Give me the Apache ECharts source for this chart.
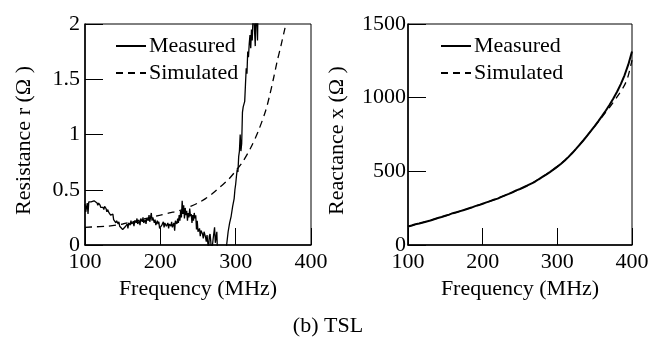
<!DOCTYPE html>
<html>
<head>
<meta charset="utf-8">
<script src="https://cdn.jsdelivr.net/npm/echarts@6/dist/echarts.min.js"></script>
<style>
  html, body { margin: 0; padding: 0; background: #fff; }
  #chart { width: 656px; height: 349px; }
</style>
</head>
<body>
<div id="chart"></div>
<script>
// ---------- Data ----------
const xTicks = [100, 200, 300, 400];

// Left panel: Resistance r (Ohm)
const rMeasFreq = [100,101,103,104,105,108,110,112,114,116,117,118,120,121,122,124,125,126,128,129,130,132,133,134,136,137,138,140,141,142,144,145,146,148,150,152,154,156,157,158,160,161,162,164,165,166,168,169,170,172,173,174,176,177,178,180,181,182,184,185,186,188,189,190,192,193,194,196,197,198,199,202,204,205,206,208,210,211,212,214,215,216,218,219,220,222,223,224,225,226,227,228,229,230,231,232,233,234,235,236,237,238,239,240,241,242,243,244,245,246,247,248,249,250,252,253,254,256,257,258,260,261,262,263,264,265,266,267,268,270,272,273,275,276,280,285,288,290,292,294,296,298,299,300,301,302,303,304,305,306,307,308,309,310,312,313,314,315,316,317,318,319,320,321,322,323,324,326,327,329,330,333];
const rMeasured = [0.37,0.30,0.38,0.28,0.39,0.39,0.40,0.40,0.39,0.38,0.36,0.38,0.36,0.34,0.35,0.34,0.32,0.35,0.33,0.30,0.32,0.29,0.30,0.27,0.26,0.28,0.23,0.24,0.20,0.22,0.19,0.21,0.17,0.16,0.14,0.15,0.17,0.19,0.15,0.20,0.18,0.22,0.19,0.21,0.17,0.22,0.20,0.24,0.19,0.22,0.18,0.24,0.21,0.25,0.20,0.23,0.19,0.24,0.22,0.27,0.21,0.29,0.22,0.25,0.20,0.23,0.18,0.22,0.19,0.21,0.15,0.18,0.21,0.16,0.20,0.17,0.20,0.15,0.19,0.17,0.21,0.16,0.20,0.13,0.22,0.19,0.24,0.20,0.27,0.22,0.31,0.25,0.40,0.28,0.36,0.24,0.33,0.27,0.31,0.22,0.29,0.25,0.33,0.26,0.28,0.20,0.27,0.22,0.29,0.24,0.27,0.14,0.22,0.12,0.15,0.08,0.13,0.10,0.06,0.12,0.07,0.03,0.09,0.02,-0.05,0.08,0.10,0.03,-0.08,0.05,0.16,0.02,0.12,-0.10,-0.30,-0.20,0.00,0.12,0.20,0.26,0.35,0.42,0.50,0.55,0.62,0.68,0.66,0.80,0.85,1.00,0.85,0.92,1.20,1.25,1.30,1.45,1.60,1.55,1.75,1.70,1.82,1.90,1.78,1.95,1.85,2.05,2.10,1.80,2.20,1.85,2.30,2.50];
const rSimFreq = [100,115,130,150,175,200,212,225,240,250,260,270,280,290,300,310,320,330,340,345,350,355,360,365,370,375];
const rSimulated = [0.16,0.165,0.17,0.19,0.23,0.27,0.29,0.31,0.35,0.38,0.42,0.47,0.53,0.59,0.67,0.76,0.88,1.03,1.22,1.35,1.50,1.66,1.80,1.95,2.10,2.30];

// Right panel: Reactance x (Ohm)
const xMeasFreq = [100,105,110,115,120,125,130,135,140,145,150,155,160,165,170,175,180,185,190,195,200,205,210,215,220,225,230,235,240,245,250,255,260,265,270,275,280,285,290,295,300,305,310,315,320,325,330,335,340,345,350,355,360,365,370,375,380,385,390,395,400];
const xMeasured = [125,132,141,146,153,160,166,175,183,190,198,206,216,222,230,238,246,254,264,271,280,289,298,307,315,327,337,347,358,371,380,392,404,417,429,446,462,478,495,513,532,552,574,598,624,652,681,711,742,774,807,841,876,913,952,994,1040,1092,1152,1224,1314];
const xSimFreq = [100,120,140,160,180,200,220,240,260,280,300,320,340,360,370,380,390,395,400];
const xSimulated = [125,153,183,214,246,280,317,358,404,462,532,624,742,870,935,1005,1085,1150,1255];

// ---------- Chart ----------
const zip = (a, b) => a.map((v, i) => [v, b[i]]);
const FONT = 'Liberation Serif';
const FS = 22;

function xAxisCfg(gridIndex, nameGap) {
  return {
    type: 'value', gridIndex, min: 100, max: 400, interval: 100,
    name: 'Frequency (MHz)', nameLocation: 'middle', nameGap,
    nameTextStyle: { fontFamily: FONT, fontSize: FS, color: '#000' },
    axisLine: { show: true, onZero: false, lineStyle: { color: '#000', width: 1.5 } },
    axisTick: { show: true, inside: true, length: 17, lineStyle: { color: '#000', width: 1 } },
    axisLabel: { fontFamily: FONT, fontSize: FS, color: '#000', margin: 6 },
    splitLine: { show: false }
  };
}
function yAxisCfg(gridIndex, min, max, interval, name, nameGap, margin) {
  return {
    type: 'value', gridIndex, min, max, interval,
    name, nameLocation: 'middle', nameGap,
    nameTextStyle: { fontFamily: FONT, fontSize: FS, color: '#000', padding: [0, 12, 0, 0] },
    axisLine: { show: true, onZero: false, lineStyle: { color: '#000', width: 1.5 } },
    axisTick: { show: true, inside: true, length: 18, lineStyle: { color: '#000', width: 1 } },
    axisLabel: { fontFamily: FONT, fontSize: FS, color: '#000', margin, formatter: v => String(v) },
    splitLine: { show: false }
  };
}
function legendCfg(left) {
  return {
    orient: 'vertical', left, top: 30, itemWidth: 30, itemHeight: 1, itemGap: 5,
    data: ['Measured', 'Simulated'],
    textStyle: { fontFamily: FONT, fontSize: FS, color: '#000', lineHeight: 22, padding: [0, 0, 0, -2] },
    selectedMode: false
  };
}
const solid = { color: '#000', width: 1.3, type: 'solid' };
const dashed = { color: '#000', width: 1.3, type: [7, 5] };

const option = {
  animation: false,
  backgroundColor: '#fff',
  title: {
    text: '(b) TSL', left: 'center', top: 310,
    textStyle: { fontFamily: FONT, fontSize: FS, fontWeight: 'normal', color: '#000' }
  },
  grid: [
    { left: 85, top: 24, width: 226, height: 221, show: true, borderColor: '#000', borderWidth: 1 },
    { left: 408, top: 24, width: 224, height: 221, show: true, borderColor: '#000', borderWidth: 1 }
  ],
  xAxis: [xAxisCfg(0, 30), xAxisCfg(1, 28)],
  yAxis: [
    yAxisCfg(0, 0, 2, 0.5, 'Resistance r (Ω )', 50, 5),
    yAxisCfg(1, 0, 1500, 500, 'Reactance x (Ω )', 60, 2)
  ],
  legend: [legendCfg(110), legendCfg(435)],
  series: [
    { name: 'Measured', type: 'line', xAxisIndex: 0, yAxisIndex: 0, data: zip(rMeasFreq, rMeasured),
      symbol: 'none', clip: true, lineStyle: solid, itemStyle: { color: '#000' } },
    { name: 'Simulated', type: 'line', xAxisIndex: 0, yAxisIndex: 0, data: zip(rSimFreq, rSimulated),
      symbol: 'none', smooth: 0.3, clip: true, lineStyle: dashed, itemStyle: { color: '#000' } },
    { name: 'Measured', type: 'line', xAxisIndex: 1, yAxisIndex: 1, data: zip(xMeasFreq, xMeasured),
      symbol: 'none', clip: true, lineStyle: { color: '#000', width: 2, type: 'solid' }, itemStyle: { color: '#000' } },
    { name: 'Simulated', type: 'line', xAxisIndex: 1, yAxisIndex: 1, data: zip(xSimFreq, xSimulated),
      symbol: 'none', smooth: 0.3, clip: true, lineStyle: dashed, itemStyle: { color: '#000' } }
  ]
};

const chart = echarts.init(document.getElementById('chart'), null, { renderer: 'canvas' });
chart.setOption(option);
</script>
</body>
</html>
